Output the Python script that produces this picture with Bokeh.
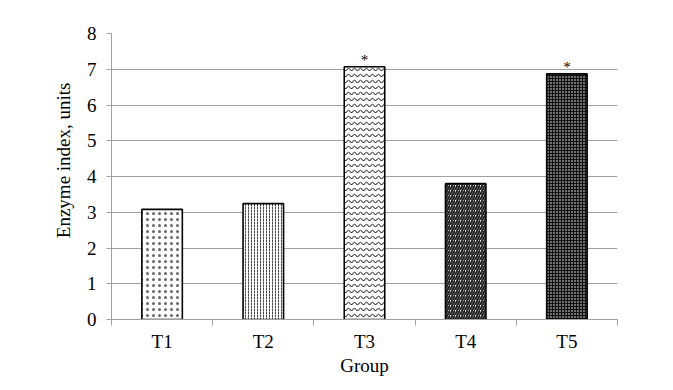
from bokeh.plotting import figure
from bokeh.models import ColumnDataSource, FixedTicker, Range1d, Title
from bokeh.core.properties import value
from bokeh.embed import file_html
from bokeh.resources import INLINE

groups = ["T1", "T2", "T3", "T4", "T5"]
values = [3.08, 3.24, 7.07, 3.80, 6.87]
marks = ["", "", "*", "", "*"]
hatches = [".", ":", "v", "/", "."]
hatch_scales = [6, 3, 6, 5, 3]
hatch_weights = [0.3, 1, 1, 2, 1]
fills = ["white", "white", "white", "white", "#111111"]
hatch_colors = ["#666666", "#444444", "black", "#222222", "white"]
y_ticks = [0, 1, 2, 3, 4, 5, 6, 7, 8]

pos = [i + 0.5 for i in range(len(groups))]
src = ColumnDataSource(dict(x=pos, top=values, mark=marks, hatch=hatches,
                            hs=hatch_scales, hw=hatch_weights, fill=fills, hc=hatch_colors))

FONT = "Liberation Serif"
p = figure(width=665, height=382, output_backend="svg", toolbar_location=None,
           x_range=Range1d(0, len(groups)), y_range=Range1d(0, 8),
           min_border_left=111, min_border_right=48, min_border_top=33,
           min_border_bottom=63)
p.outline_line_color = None
p.background_fill_color = "white"

p.vbar(x="x", top="top", width=0.4, bottom=0, source=src,
       fill_color="fill", line_color="black", line_width=1.6,
       hatch_pattern="hatch", hatch_scale="hs", hatch_color="hc",
       hatch_weight="hw")
p.text(x="x", y="top", text="mark", source=src, text_align="center",
       text_baseline="bottom", y_offset=1, text_font=value(FONT),
       text_font_size="15px", text_color="black")

p.xaxis.ticker = FixedTicker(ticks=pos, minor_ticks=list(range(len(groups) + 1)))
p.xaxis.major_label_overrides = {pos[i]: groups[i] for i in range(len(groups))}
p.xaxis.major_tick_out = 0
p.xaxis.major_tick_in = 0
p.xaxis.minor_tick_out = 6
p.xaxis.minor_tick_in = 0
p.xaxis.minor_tick_line_color = "#a0a0a0"
p.xaxis.axis_line_color = "#a0a0a0"
p.xaxis.major_label_standoff = 5
p.xaxis.axis_label = "Group"
p.xaxis.axis_label_standoff = 0
p.xgrid.visible = False

p.yaxis.ticker = FixedTicker(ticks=y_ticks, minor_ticks=[])
p.yaxis.major_tick_out = 5
p.yaxis.major_tick_in = 0
p.yaxis.major_tick_line_color = "#a0a0a0"
p.yaxis.axis_line_color = "#a0a0a0"
p.yaxis.major_label_standoff = 10
p.ygrid.grid_line_color = "#a0a0a0"
p.ygrid.ticker = FixedTicker(ticks=y_ticks)

ylab = Title(text="Enzyme index, units", align="right", offset=49, standoff=20,
             text_font=FONT, text_font_size="19px", text_font_style="normal",
             text_color="black")
p.add_layout(ylab, "left")

for ax in (p.xaxis, p.yaxis):
    ax.major_label_text_font = FONT
    ax.major_label_text_font_size = "19px"
    ax.major_label_text_color = "black"
    ax.axis_label_text_font = FONT
    ax.axis_label_text_font_size = "19px"
    ax.axis_label_text_font_style = "normal"
    ax.axis_label_text_color = "black"

open("out.html", "w").write(file_html(p, INLINE))
